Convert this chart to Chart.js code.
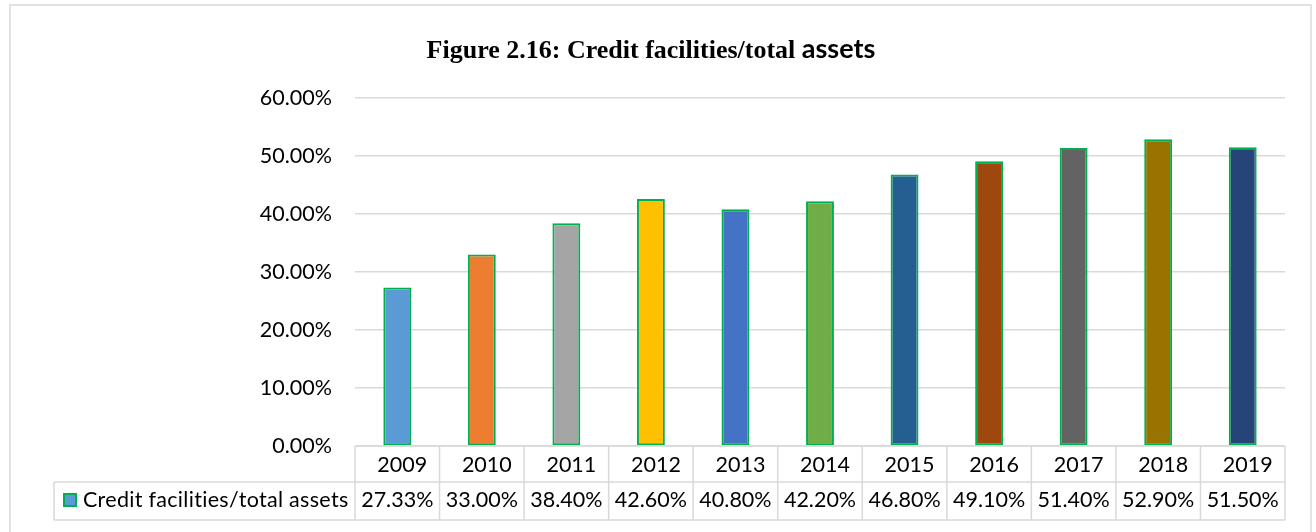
<!DOCTYPE html>
<html>
<head>
<meta charset="utf-8">
<script src="https://cdn.jsdelivr.net/npm/chart.js@4/dist/chart.umd.min.js"></script>
<style>
  html, body { margin: 0; padding: 0; background: #fff; }
  #wrap { width: 1316px; height: 532px; }
</style>
</head>
<body>
<div id="wrap"><canvas id="creditChart" width="1316" height="532"></canvas></div>
<script>
// data
const years = ['2009', '2010', '2011', '2012', '2013', '2014', '2015', '2016', '2017', '2018', '2019'];
const ratios = [27.33, 33.00, 38.40, 42.60, 40.80, 42.20, 46.80, 49.10, 51.40, 52.90, 51.50];
const seriesName = 'Credit facilities/total assets';
const yTicks = [0, 10, 20, 30, 40, 50, 60];

const barColors = ['#5B9BD5', '#ED7D31', '#A5A5A5', '#FFC000', '#4472C4', '#70AD47',
                   '#255E91', '#9E480E', '#636363', '#997300', '#264478'];
const gridGrey = '#d9d9d9';
const bodyFont = 'Lato, "Open Sans", sans-serif';
const textSize = 21.5;

// outer frame + mixed-font title (Times part, then Calibri-ish "assets")
const framePlugin = {
    id: 'frame',
    beforeDraw(chart) {
        const ctx = chart.ctx;
        ctx.save();
        ctx.strokeStyle = gridGrey;
        ctx.lineWidth = 1.5;
        ctx.strokeRect(10, 5, 1301, 530);

        const part1 = 'Figure 2.16: Credit facilities/total ';
        const part2 = 'assets';
        const f1 = 'bold 26px "Liberation Serif", "DejaVu Serif", serif';
        const f2 = 'bold 27px ' + bodyFont;
        ctx.font = f1;
        const w1 = ctx.measureText(part1).width;
        ctx.font = f2;
        const w2 = ctx.measureText(part2).width;
        const x0 = 651 - (w1 + w2) / 2;
        ctx.fillStyle = '#000';
        ctx.textBaseline = 'alphabetic';
        ctx.textAlign = 'left';
        ctx.font = f1;
        ctx.fillText(part1, x0, 58);
        ctx.font = f2;
        ctx.fillText(part2, x0 + w1, 58);
        ctx.restore();
    }
};

// Excel-style data table under the plot
const dataTablePlugin = {
    id: 'dataTable',
    afterDraw(chart) {
        const ctx = chart.ctx;
        const area = chart.chartArea;
        const xs = chart.scales.x;
        const top = area.bottom;
        const mid = top + 36;
        const bot = mid + 38;
        const legendLeft = 54;
        const step = (area.right - area.left) / years.length;

        ctx.save();
        ctx.strokeStyle = gridGrey;
        ctx.lineWidth = 1.5;
        ctx.beginPath();
        ctx.moveTo(area.left, top); ctx.lineTo(area.right, top);
        ctx.moveTo(legendLeft, mid); ctx.lineTo(area.right, mid);
        ctx.moveTo(legendLeft, bot); ctx.lineTo(area.right, bot);
        ctx.moveTo(legendLeft, mid); ctx.lineTo(legendLeft, bot);
        for (let i = 0; i <= years.length; i++) {
            const x = area.left + i * step;
            ctx.moveTo(x, top); ctx.lineTo(x, bot);
        }
        ctx.stroke();

        ctx.fillStyle = '#000';
        ctx.font = textSize + 'px ' + bodyFont;
        ctx.textBaseline = 'middle';
        ctx.textAlign = 'center';
        years.forEach((yr, i) => {
            const cx = xs.getPixelForValue(i);
            ctx.fillText(yr, cx + 5, (top + mid) / 2 + 1);
            ctx.fillText(ratios[i].toFixed(2) + '%', cx, (mid + bot) / 2 - 1);
        });

        // legend key + series name
        const ky = (mid + bot) / 2;
        ctx.fillStyle = barColors[0];
        ctx.fillRect(64, ky - 7, 12, 12);
        ctx.strokeStyle = '#00B050';
        ctx.lineWidth = 2;
        ctx.strokeRect(64, ky - 7, 12, 12);
        ctx.fillStyle = '#000';
        ctx.textAlign = 'left';
        ctx.letterSpacing = '0.3px';
        ctx.fillText(seriesName, 83, ky - 1);
        ctx.restore();
    }
};

const ctx = document.getElementById('creditChart').getContext('2d');
new Chart(ctx, {
    type: 'bar',
    data: {
        labels: years,
        datasets: [{
            label: seriesName,
            data: ratios,
            backgroundColor: barColors,
            borderColor: '#00B050',
            borderWidth: 2,
            borderSkipped: false,
            barPercentage: 0.33,
            categoryPercentage: 1.0
        }]
    },
    options: {
        responsive: false,
        animation: false,
        devicePixelRatio: 1,
        layout: {
            padding: { left: 10, right: 31, top: 98, bottom: 86 }
        },
        plugins: {
            legend: { display: false },
            title: { display: false },
            tooltip: { enabled: false }
        },
        scales: {
            x: {
                display: false
            },
            y: {
                min: 0,
                max: 60,
                afterFit(scale) { scale.width = 345; },
                afterBuildTicks(scale) { scale.ticks = yTicks.map(v => ({ value: v })); },
                border: { display: false },
                grid: {
                    color: gridGrey,
                    lineWidth: 1.5,
                    drawTicks: false
                },
                ticks: {
                    padding: 23,
                    color: '#000',
                    font: { family: bodyFont, size: textSize },
                    callback: v => v.toFixed(2) + '%'
                }
            }
        }
    },
    plugins: [framePlugin, dataTablePlugin]
});
</script>
</body>
</html>
